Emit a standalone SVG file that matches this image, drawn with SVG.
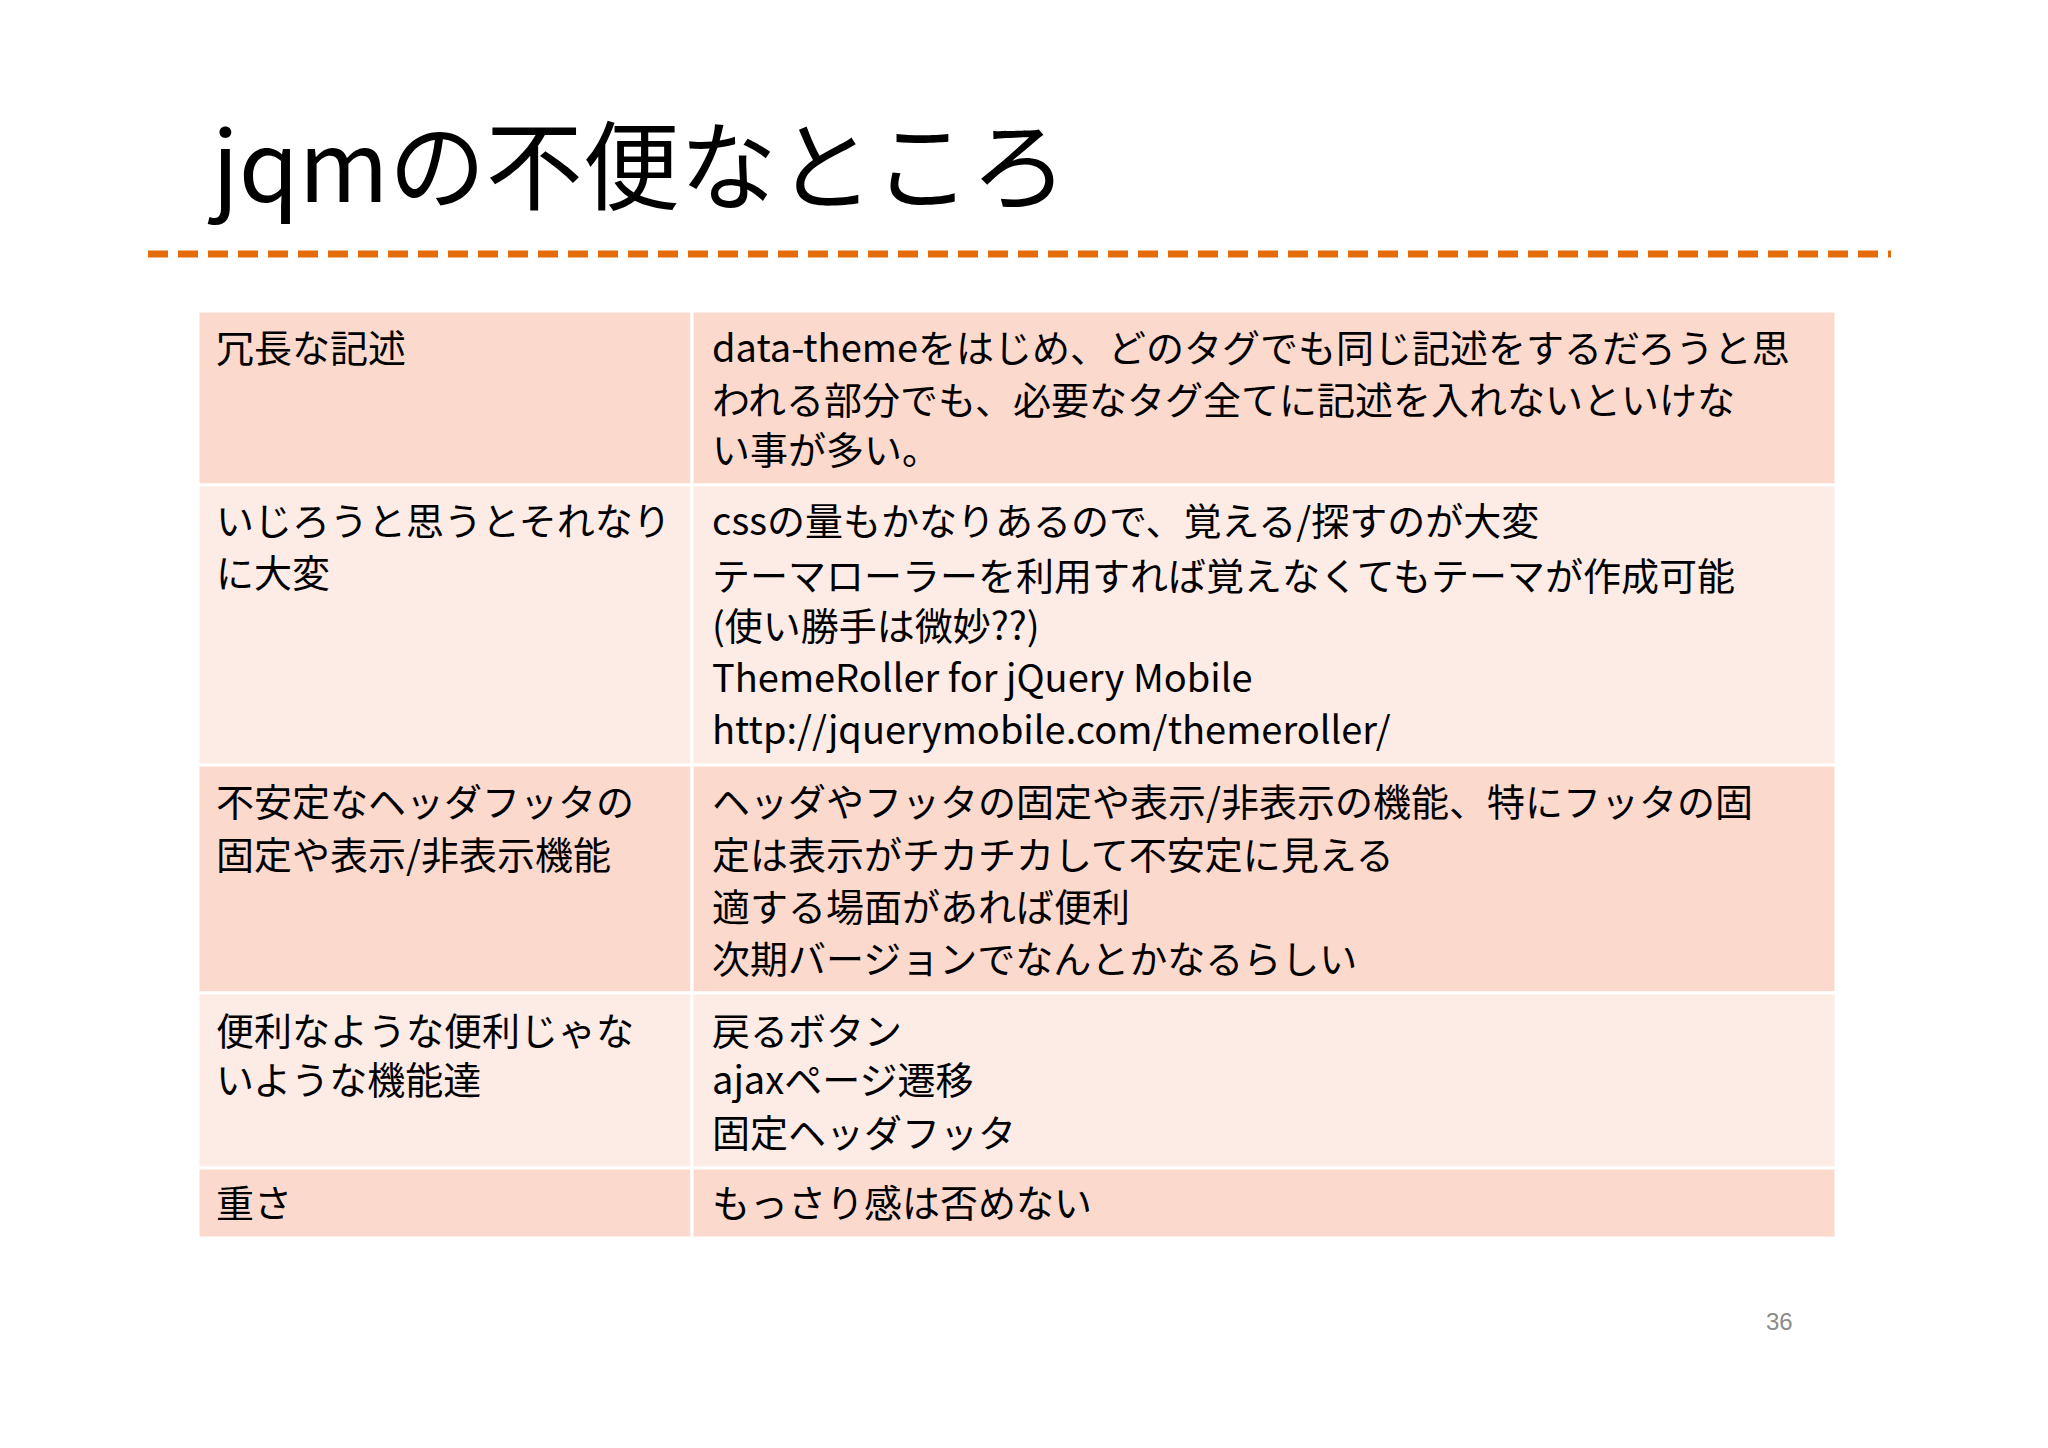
<svg xmlns="http://www.w3.org/2000/svg" width="2048" height="1448" viewBox="0 0 2048 1448">
<style>
.t{font-family:"Noto Sans CJK JP","Noto Sans",sans-serif;font-size:38px;fill:#000}
.a{fill:#FCD9CD}.b{fill:#FDEBE6}
</style>
<rect width="2048" height="1448" fill="#fff"/>
<text x="212" y="202" font-family="Noto Sans CJK JP,sans-serif" font-size="97" fill="#000">jqmの不便なところ</text>
<line x1="148" y1="254" x2="1891" y2="254" stroke="#E46C0A" stroke-width="7" stroke-dasharray="20,10"/>
<g id="table" stroke="#fff" stroke-width="3">
<rect class="a" x="198" y="311" width="494" height="174"/><rect class="a" x="692" y="311" width="1144" height="174"/>
<rect class="b" x="198" y="485" width="494" height="280"/><rect class="b" x="692" y="485" width="1144" height="280"/>
<rect class="a" x="198" y="765" width="494" height="228"/><rect class="a" x="692" y="765" width="1144" height="228"/>
<rect class="b" x="198" y="993" width="494" height="175"/><rect class="b" x="692" y="993" width="1144" height="175"/>
<rect class="a" x="198" y="1168" width="494" height="70"/><rect class="a" x="692" y="1168" width="1144" height="70"/>
</g>
<g id="texts" class="t">
<text class="t" x="216" y="362">冗長な記述</text>
<text class="t" x="712" y="362">data-themeをはじめ、どのタグでも同じ記述をするだろうと思</text>
<text class="t" x="712" y="414">われる部分でも、必要なタグ全てに記述を入れないといけな</text>
<text class="t" x="712" y="464">い事が多い。</text>
<text class="t" x="216" y="535">いじろうと思うとそれなり</text>
<text class="t" x="216" y="587">に大変</text>
<text class="t" x="712" y="535">cssの量もかなりあるので、覚える/探すのが大変</text>
<text class="t" x="712" y="590">テーマローラーを利用すれば覚えなくてもテーマが作成可能</text>
<text class="t" x="712" y="640">(使い勝手は微妙??)</text>
<text class="t" x="712" y="692">ThemeRoller for jQuery Mobile</text>
<text class="t" x="712" y="744">http://jquerymobile.com/themeroller/</text>
<text class="t" x="216" y="816">不安定なヘッダフッタの</text>
<text class="t" x="216" y="869">固定や表示/非表示機能</text>
<text class="t" x="712" y="816">ヘッダやフッタの固定や表示/非表示の機能、特にフッタの固</text>
<text class="t" x="712" y="869">定は表示がチカチカして不安定に見える</text>
<text class="t" x="712" y="921">適する場面があれば便利</text>
<text class="t" x="712" y="973">次期バージョンでなんとかなるらしい</text>
<text class="t" x="216" y="1045">便利なような便利じゃな</text>
<text class="t" x="216" y="1094">いような機能達</text>
<text class="t" x="712" y="1045">戻るボタン</text>
<text class="t" x="712" y="1094">ajaxページ遷移</text>
<text class="t" x="712" y="1147">固定ヘッダフッタ</text>
<text class="t" x="216" y="1217">重さ</text>
<text class="t" x="712" y="1217">もっさり感は否めない</text>
</g>
<text x="1766" y="1330" font-family="Liberation Sans,sans-serif" font-size="24" fill="#8c8c8c">36</text>
</svg>
